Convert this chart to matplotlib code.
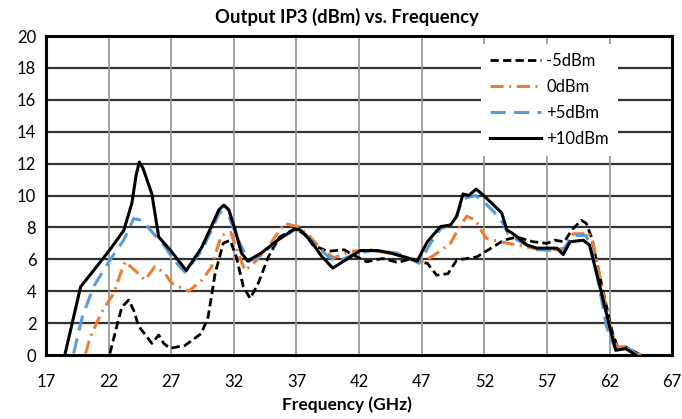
import matplotlib
matplotlib.use("Agg")
import matplotlib.pyplot as plt

# ---- data ----
f_m5 = [22.1,22.65,23.05,23.6,24.0,24.4,25.05,25.45,26.0,26.4,26.9,28.1,29.4,29.95,30.5,31.15,31.7,32.2,32.75,33.3,33.95,34.75,35.65,36.85,37.65,38.3,39.5,40.8,41.6,42.6,43.9,45.1,46.2,46.8,47.45,48.2,49.1,49.8,50.6,51.4,52.75,53.55,54.6,55.9,57.0,57.6,58.4,59.0,59.75,60.15,60.55,61.4,62.25,62.65,63.3,64.5]
v_m5 = [0.1,1.8,3.0,3.45,2.8,1.8,1.15,0.73,1.25,0.73,0.42,0.6,1.35,2.4,5.1,7.0,7.2,6.15,4.3,3.55,4.5,6.15,7.4,7.9,7.6,6.9,6.5,6.6,6.25,5.85,6.05,5.8,6.05,5.85,5.75,5.0,5.1,5.95,6.05,6.15,6.8,7.2,7.4,7.1,7.0,7.2,7.1,7.85,8.45,8.25,7.4,4.3,1.35,0.5,0.5,0.0]

f_0 = [20.15,20.55,21.1,21.6,22.4,22.9,23.3,24.25,24.9,25.7,26.5,27.05,28.4,29.45,30.2,31.0,31.75,32.35,32.9,33.7,34.75,36.05,37.1,38.0,39.0,40.0,41.35,42.9,45.3,46.4,47.2,48.25,49.3,49.95,50.6,51.3,51.8,52.2,53.25,54.6,55.9,57.8,58.4,59.1,59.8,60.3,60.7,61.4,62.1,62.6,63.1,63.6,64.5]
v_0 = [0.1,1.15,2.1,2.9,3.85,5.0,5.85,5.2,4.7,5.55,5.1,4.5,4.0,4.7,5.5,7.5,7.7,6.35,5.3,5.85,6.8,8.25,8.05,7.5,6.6,6.1,6.5,6.6,6.25,5.95,5.85,6.4,7.0,7.95,8.7,8.45,7.75,7.3,7.1,6.9,6.7,6.6,6.7,7.6,7.6,7.7,7.0,4.2,1.6,0.5,0.5,0.4,0.0]

f_p5 = [19.2,19.9,20.8,22.1,23.2,24.0,24.65,25.6,26.4,27.2,28.1,29.4,30.2,30.9,31.6,32.3,33.2,34.2,35.5,36.85,37.5,38.5,39.5,40.3,41.5,43.0,45.0,46.8,47.7,48.5,49.55,50.3,51.3,51.95,52.75,53.5,53.9,54.85,55.9,56.2,57.8,58.3,59.1,60.1,60.55,61.2,61.75,62.5,63.3,64.3]
v_p5 = [0.1,2.4,4.3,5.95,7.2,8.55,8.45,7.6,6.9,5.95,5.2,6.5,7.8,9.0,8.7,7.3,5.85,6.3,7.2,7.85,7.8,6.9,6.2,5.85,6.3,6.55,6.4,5.75,7.0,7.9,8.25,9.8,10.0,9.6,9.0,8.25,7.6,7.1,6.7,6.6,6.55,6.6,7.5,7.5,6.8,4.2,1.8,0.3,0.5,0.0]

f_p10 = [18.5,19.76,20.8,22.1,23.2,23.85,24.2,24.45,24.75,25.45,26.0,26.9,28.2,29.4,30.2,30.8,31.2,31.6,32.1,32.6,33.1,34.2,35.5,36.85,37.3,38.2,39.0,39.9,41.0,42.1,43.5,44.5,45.6,46.65,47.45,48.5,49.3,49.8,50.3,50.75,51.36,51.95,52.75,53.4,53.8,54.3,55.4,56.2,57.0,57.8,58.3,58.85,59.9,60.4,61.2,62.0,62.5,63.3,64.1]
v_p10 = [0.0,4.28,5.3,6.6,7.8,9.5,11.3,12.1,11.7,10.1,7.4,6.6,5.3,6.7,8.05,9.1,9.4,9.1,7.85,6.4,5.9,6.4,7.2,7.9,7.85,7.1,6.2,5.45,6.0,6.55,6.55,6.4,6.15,5.9,7.1,8.05,8.15,8.7,10.1,10.0,10.4,10.0,9.4,8.9,7.85,7.6,6.9,6.7,6.7,6.7,6.3,7.1,7.2,6.9,4.4,1.8,0.3,0.4,0.0]

labels = ["-5dBm", "0dBm", "+5dBm", "+10dBm"]
x_ticks = [17, 22, 27, 32, 37, 42, 47, 52, 57, 62, 67]
y_ticks = [0, 2, 4, 6, 8, 10, 12, 14, 16, 18, 20]

plt.rcParams['font.family'] = ['Lato', 'DejaVu Sans']

fig = plt.figure(figsize=(6.82, 4.19), dpi=100)
ax = fig.add_axes([0.0675, 0.1527, 0.918, 0.7613])

l1, = ax.plot(f_m5, v_m5, color='black', lw=2.0, linestyle=(0, (3.0, 1.5)), label=labels[0], zorder=3)
l2, = ax.plot(f_0, v_0, color='#ED7D31', lw=2.2, linestyle=(0, (4.3, 1.8, 0.7, 1.8)), label=labels[1], zorder=3)
l3, = ax.plot(f_p5, v_p5, color='#5B9BD5', lw=2.2, linestyle=(0, (5.0, 2.7)), label=labels[2], zorder=3)
l4, = ax.plot(f_p10, v_p10, color='black', lw=2.2, linestyle='-', label=labels[3], zorder=3)

ax.set_xlim(17, 67)
ax.set_ylim(0, 20)
ax.set_xticks(x_ticks)
ax.set_yticks(y_ticks)
ax.tick_params(axis='x', length=0, labelsize=12, pad=14)
ax.tick_params(axis='y', length=0, labelsize=12, pad=7)

for yv in y_ticks[1:-1]:
    ax.axhline(yv, color='#333333', lw=1.6, zorder=1)
for xv in x_ticks[1:-1]:
    ax.axvline(xv, color='#9a9a9a', lw=1.3, zorder=1)

for s in ax.spines.values():
    s.set_linewidth(2.2)
    s.set_color('black')

fig.text(347/682, 1 - 17/419, "Output IP3 (dBm) vs. Frequency", fontsize=13.3,
         fontweight='bold', ha='center', va='center')
fig.text(347/682, 1 - 405/419, "Frequency (GHz)", fontsize=12.5,
         fontweight='bold', ha='center', va='center')

leg = ax.legend(handles=[l1, l2, l3, l4], loc='upper left', bbox_to_anchor=(0.694, 0.975),
                frameon=True, fancybox=False, framealpha=1, facecolor='white', edgecolor='none',
                fontsize=12, handlelength=3.1, handletextpad=0.3, labelspacing=0.6,
                borderpad=0.55, borderaxespad=0)
leg.set_zorder(5)

fig.savefig("out.png", dpi=100)
